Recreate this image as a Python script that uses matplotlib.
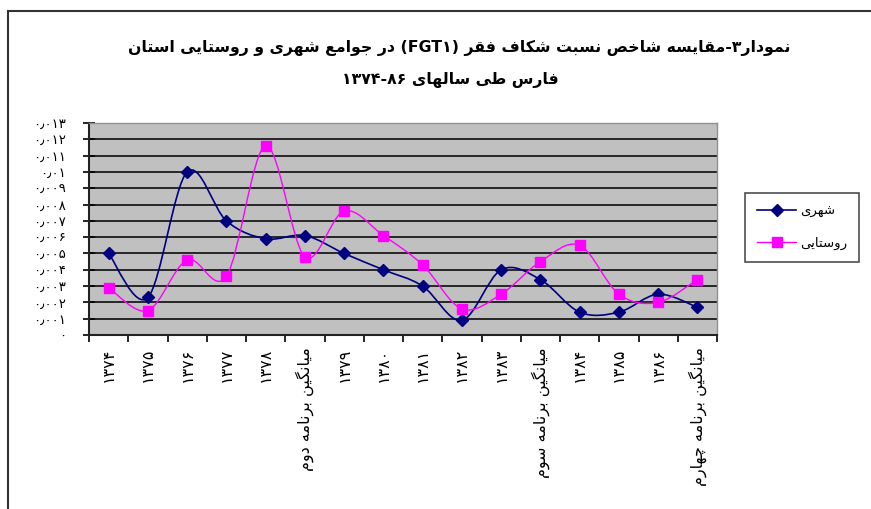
import numpy as np
import matplotlib.pyplot as plt
from matplotlib.path import Path
from matplotlib.patches import PathPatch, Rectangle
from matplotlib.lines import Line2D

# داده‌ها (خوانده شده از نمودار)
categories = ['۱۳۷۴', '۱۳۷۵', '۱۳۷۶', '۱۳۷۷', '۱۳۷۸', 'میانگین برنامه دوم',
              '۱۳۷۹', '۱۳۸۰', '۱۳۸۱', '۱۳۸۲', '۱۳۸۳', 'میانگین برنامه سوم',
              '۱۳۸۴', '۱۳۸۵', '۱۳۸۶', 'میانگین برنامه چهارم']
urban = [0.0050, 0.0023, 0.0100, 0.0070, 0.0059, 0.0061, 0.0050, 0.0040,
         0.0030, 0.0009, 0.0040, 0.0034, 0.0014, 0.0014, 0.0025, 0.0017]
rural = [0.0029, 0.0015, 0.0046, 0.0036, 0.0116, 0.0048, 0.0076, 0.0061,
         0.0043, 0.0016, 0.0025, 0.0045, 0.0055, 0.0025, 0.0020, 0.0034]
series_names = ['شهری', 'روستایی']
title_1 = 'نمودار۳-مقایسه شاخص نسبت شکاف فقر (FGT۱) در جوامع شهری و روستایی استان'
title_2 = 'فارس طی سالهای ۱۳۷۴-۸۶'
y_ticks = [i / 1000 for i in range(14)]

# شکل‌دهی حروف فارسی (matplotlib خودش این کار را نمی‌کند)
# (isolated, final, initial, medial)
FORMS = {
    'ا': (0xFE8D, 0xFE8E, None, None),
    'ب': (0xFE8F, 0xFE90, 0xFE91, 0xFE92),
    'پ': (0xFB56, 0xFB57, 0xFB58, 0xFB59),
    'ت': (0xFE95, 0xFE96, 0xFE97, 0xFE98),
    'ج': (0xFE9D, 0xFE9E, 0xFE9F, 0xFEA0),
    'چ': (0xFB7A, 0xFB7B, 0xFB7C, 0xFB7D),
    'ح': (0xFEA1, 0xFEA2, 0xFEA3, 0xFEA4),
    'خ': (0xFEA5, 0xFEA6, 0xFEA7, 0xFEA8),
    'د': (0xFEA9, 0xFEAA, None, None),
    'ر': (0xFEAD, 0xFEAE, None, None),
    'ز': (0xFEAF, 0xFEB0, None, None),
    'س': (0xFEB1, 0xFEB2, 0xFEB3, 0xFEB4),
    'ش': (0xFEB5, 0xFEB6, 0xFEB7, 0xFEB8),
    'ص': (0xFEB9, 0xFEBA, 0xFEBB, 0xFEBC),
    'ط': (0xFEC1, 0xFEC2, 0xFEC3, 0xFEC4),
    'ع': (0xFEC9, 0xFECA, 0xFECB, 0xFECC),
    'ف': (0xFED1, 0xFED2, 0xFED3, 0xFED4),
    'ق': (0xFED5, 0xFED6, 0xFED7, 0xFED8),
    'ک': (0xFB8E, 0xFB8F, 0xFB90, 0xFB91),
    'گ': (0xFB92, 0xFB93, 0xFB94, 0xFB95),
    'ل': (0xFEDD, 0xFEDE, 0xFEDF, 0xFEE0),
    'م': (0xFEE1, 0xFEE2, 0xFEE3, 0xFEE4),
    'ن': (0xFEE5, 0xFEE6, 0xFEE7, 0xFEE8),
    'و': (0xFEED, 0xFEEE, None, None),
    'ه': (0xFEE9, 0xFEEA, 0xFEEB, 0xFEEC),
    'ی': (0xFBFC, 0xFBFD, 0xFBFE, 0xFBFF),
}


def shape_word(w):
    out = []
    for i, c in enumerate(w):
        if c not in FORMS:
            out.append(c)
            continue
        prev = w[i - 1] if i > 0 else None
        nxt = w[i + 1] if i + 1 < len(w) else None
        jp = prev in FORMS and FORMS[prev][2] is not None
        jn = nxt in FORMS and FORMS[c][2] is not None
        iso, fin, ini, med = FORMS[c]
        g = med if (jp and jn) else fin if jp else ini if jn else iso
        out.append(chr(g))
    return ''.join(reversed(out))


def fa(text):
    tokens = []
    for tok in text.split(' '):
        if not any(c in FORMS for c in tok):
            tokens.append(tok)
            continue
        runs, cur, cur_is = [], '', None
        for c in tok:
            is_l = c in FORMS
            if cur and is_l != cur_is:
                runs.append((cur, cur_is))
                cur = ''
            cur += c
            cur_is = is_l
        runs.append((cur, cur_is))
        tokens.append(''.join(shape_word(r) if l else r[::-1]
                              for r, l in reversed(runs)))
    return ' '.join(reversed(tokens))


def fa_num(v):
    return ('%g' % v).translate(str.maketrans('0123456789.', '۰۱۲۳۴۵۶۷۸۹٫'))


plt.rcParams['font.family'] = ['DejaVu Sans']

fig = plt.figure(figsize=(8.71, 5.09), dpi=100)
fig.patch.set_facecolor('white')
fig.add_artist(Rectangle((8 / 871, -0.1), 1.2, 1.1 - 11 / 509, transform=fig.transFigure,
                         fill=False, edgecolor='#333333', lw=1.5))

ax = fig.add_axes([89 / 871, 1 - 335 / 509, 628 / 871, 212 / 509])
ax.set_facecolor('#C0C0C0')

x = np.arange(len(categories))


def smooth_path(xs, ys):
    pts = np.column_stack([xs, ys])
    n = len(pts)
    verts = [pts[0]]
    codes = [Path.MOVETO]
    for i in range(n - 1):
        p0 = pts[max(i - 1, 0)]
        p1 = pts[i]
        p2 = pts[i + 1]
        p3 = pts[min(i + 2, n - 1)]
        verts += [p1 + (p2 - p0) / 6, p2 - (p3 - p1) / 6, p2]
        codes += [Path.CURVE4] * 3
    return Path(verts, codes)


ax.set_axisbelow(True)
ax.yaxis.grid(True, color='#1a1a1a', lw=1.3)
ax.add_patch(PathPatch(smooth_path(x, urban), fill=False, edgecolor='#000080', lw=1.2, zorder=3))
ax.add_patch(PathPatch(smooth_path(x, rural), fill=False, edgecolor='#FF00FF', lw=1.0, zorder=3))
ax.plot(x, urban, ls='none', marker='D', ms=6, color='#000080', zorder=4)
ax.plot(x, rural, ls='none', marker='s', ms=7, color='#FF00FF', zorder=4)

ax.set_xlim(-0.5, len(categories) - 0.5)
ax.set_ylim(0, 0.013)
ax.set_yticks(y_ticks)
ax.set_yticklabels([fa_num(v) for v in y_ticks], fontsize=9.5)
ax.tick_params(axis='y', direction='inout', length=9, width=1.2, pad=12)

ax.set_xticks(x)
ax.set_xticklabels([fa(c) for c in categories], rotation=90, fontsize=11.5, va='top')
ax.tick_params(axis='x', which='major', length=0, pad=9)
ax.set_xticks(np.arange(len(categories) + 1) - 0.5, minor=True)
ax.tick_params(axis='x', which='minor', direction='out', length=5, width=1.2)

for s in ['left', 'bottom']:
    ax.spines[s].set_color('#222222')
    ax.spines[s].set_linewidth(1.5)
for s in ['top', 'right']:
    ax.spines[s].set_color('#909090')
    ax.spines[s].set_linewidth(1)

fig.text(459 / 871, 1 - 48 / 509, fa(title_1), ha='center', va='center',
         fontsize=11.3, fontweight='bold')
fig.text(450 / 871, 1 - 80 / 509, fa(title_2), ha='center', va='center',
         fontsize=11.3, fontweight='bold')

handles = [Line2D([], [], color='#000080', marker='D', ms=6, lw=1.2),
           Line2D([], [], color='#FF00FF', marker='s', ms=7, lw=1.0)]
leg = fig.legend(handles, [fa(n) for n in series_names], loc='upper left',
                 bbox_to_anchor=(745 / 871, 1 - 193 / 509), bbox_transform=fig.transFigure,
                 borderaxespad=0, fancybox=False, fontsize=9.5, handlelength=3.0,
                 labelspacing=1.4, borderpad=0.9, handletextpad=0.3)
leg.get_frame().set_edgecolor('#222222')
leg.get_frame().set_linewidth(1.2)

fig.savefig('out.png', dpi=100)
